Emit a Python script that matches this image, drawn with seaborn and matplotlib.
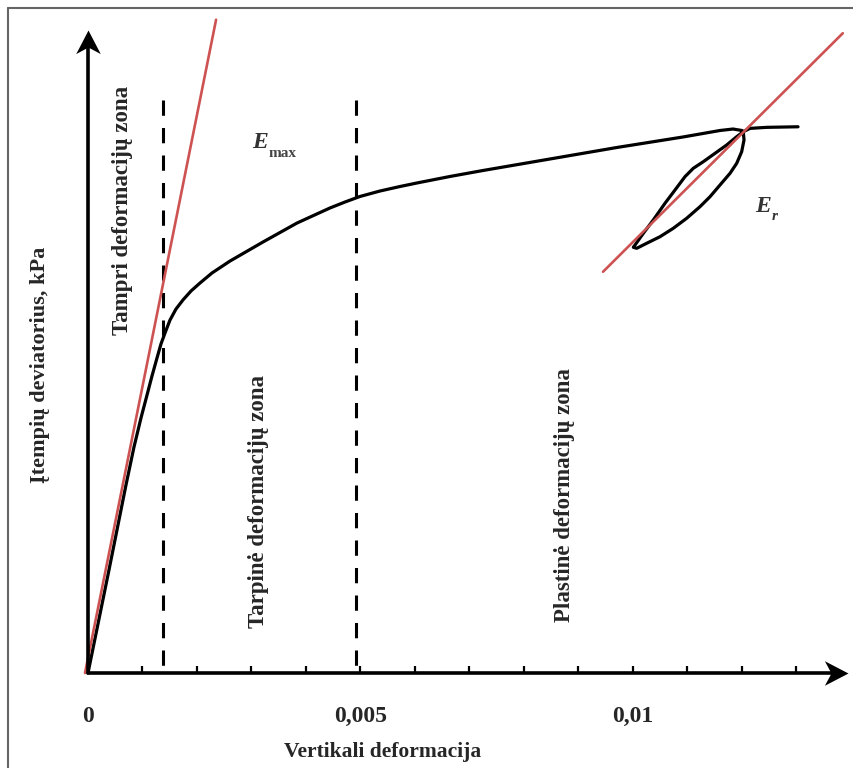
import numpy as np
import pandas as pd
import matplotlib.pyplot as plt
import seaborn as sns
from matplotlib.lines import Line2D
from matplotlib.path import Path

# strain (-) and deviator stress (kPa, arbitrary scale)
curve_strain = [0, 0.000385, 0.000697, 0.000844, 0.000972, 0.001083, 0.001174,
                0.001266, 0.001339, 0.001413, 0.001505, 0.001615, 0.001743,
                0.001890, 0.002055, 0.002275, 0.002606, 0.003211, 0.003835,
                0.004440, 0.004716, 0.004991, 0.005358, 0.005725, 0.006037,
                0.006642, 0.007248, 0.008477, 0.009706, 0.010917, 0.011596,
                0.011835, 0.012000, 0.012024]
curve_stress = [0, 16.02, 29.24, 35.15, 39.66, 43.23, 46.19,
                48.99, 51.17, 52.88, 54.90, 56.61, 58.02,
                59.41, 60.65, 62.21, 64.07, 67.03, 69.98,
                72.32, 73.25, 74.11, 74.96, 75.66, 76.21,
                77.22, 78.15, 79.94, 81.73, 83.36, 84.37,
                84.60, 84.37, 84.18]
# unloading / reloading loop
loop_strain = [0.012037, 0.011994, 0.011903, 0.011780, 0.011596, 0.011413,
               0.011229, 0.010985, 0.010739, 0.010495, 0.010251, 0.010068,
               0.010006, 0.010037, 0.010189, 0.010372, 0.010587, 0.010771,
               0.010954, 0.011106, 0.011290, 0.011505, 0.011719, 0.011903,
               0.012024]
loop_stress = [82.89, 81.07, 79.27, 77.71, 75.89, 74.07,
               72.52, 70.72, 69.16, 67.85, 66.83, 66.05,
               66.21, 66.56, 68.38, 70.45, 73.05, 75.12,
               77.19, 78.49, 79.52, 80.82, 82.12, 83.41,
               84.18]
plateau_strain = [0.012147, 0.012453, 0.013028]
plateau_stress = [84.70, 84.86, 84.95]

emax_strain = [-0.000055, 0.00235]
emax_stress = [0, 101.6]
er_strain = [0.00945, 0.01385]
er_stress = [62.4, 99.5]

zone_limits = [0.00138, 0.00492]
zone_top = 89.1

tick_values = [0, 0.001, 0.002, 0.003, 0.004, 0.005, 0.006, 0.007, 0.008, 0.009,
               0.010, 0.011, 0.012, 0.013]
tick_labels = ['0', '', '', '', '', '0,005', '', '', '', '', '0,01', '', '', '']

sns.set_style("white")
plt.rcParams['font.family'] = ['Liberation Serif', 'DejaVu Serif']
plt.rcParams['font.weight'] = 'bold'

fig = plt.figure(figsize=(8.54, 7.68), dpi=100)
ax = fig.add_axes([88/854, 95/768, 760/854, 643/768])
x_max, y_max = 0.013945, 100
ax.set_xlim(0, x_max)
ax.set_ylim(0, y_max)
for s in ax.spines.values():
    s.set_visible(False)

df = pd.DataFrame({
    "strain": curve_strain + loop_strain + plateau_strain,
    "stress": curve_stress + loop_stress + plateau_stress,
})
sns.lineplot(data=df, x="strain", y="stress", sort=False, estimator=None,
             color="black", lw=2.3, ax=ax)
ax.lines[-1].set_solid_joinstyle("round")

red = "#cd5252"
ax.plot(emax_strain, emax_stress, color=red, lw=1.9, clip_on=False, zorder=3)
ax.plot(er_strain, er_stress, color=red, lw=1.9, clip_on=False, zorder=3)

for xz in zone_limits:
    ax.plot([xz, xz], [zone_top, 0], color="black", lw=2.2, dashes=(5, 4))

# axes with arrowheads
ax.plot([0, x_max - 0.0003], [0, 0], color="black", lw=2.6, clip_on=False, zorder=4)
ax.plot([0, 0], [0, y_max - 2.5], color="black", lw=2.6, clip_on=False, zorder=4)
head_x = Path([(0, 0), (-1, 0.52), (-0.72, 0), (-1, -0.52), (0, 0)],
              [Path.MOVETO, Path.LINETO, Path.LINETO, Path.LINETO, Path.CLOSEPOLY])
head_y = Path([(0, 0), (-0.52, -1), (0, -0.72), (0.52, -1), (0, 0)],
              [Path.MOVETO, Path.LINETO, Path.LINETO, Path.LINETO, Path.CLOSEPOLY])
ax.plot([x_max], [0], marker=head_x, markersize=34, color="black", mew=0, clip_on=False, zorder=5)
ax.plot([0], [y_max], marker=head_y, markersize=34, color="black", mew=0, clip_on=False, zorder=5)

ax.set_xticks(tick_values)
ax.set_xticklabels(tick_labels, fontsize=17, fontweight="bold")
ax.set_yticks([])
ax.tick_params(axis="x", direction="in", length=5, width=1.6, color="black", pad=24, bottom=True)
ax.set_xlabel("")
ax.set_ylabel("")

txt = dict(fontsize=16.5, fontweight="bold", rotation=90, ha="center", va="center")
ax.text(0.000624, 72.0, "Tampri deformacijų zona", **txt)
ax.text(0.00312, 26.7, "Tarpinė deformacijų zona", **txt)
ax.text(0.00875, 27.7, "Plastinė deformacijų zona", **txt)

ax.text(0.00330, 81.6, "E", fontsize=17, fontweight="bold", style="italic", color="#333333",
        ha="right", va="baseline")
ax.text(0.00331, 80.2, "max", fontsize=11, fontweight="bold", color="#444444",
        ha="left", va="baseline")
ax.text(0.01253, 71.7, "E", fontsize=17, fontweight="bold", style="italic", color="#333333",
        ha="right", va="baseline")
ax.text(0.01254, 70.4, "r", fontsize=11, fontweight="bold", style="italic", color="#333333",
        ha="left", va="baseline")

fig.text(40/854, 1 - 365/768, "Įtempių deviatorius, kPa", fontsize=16, fontweight="bold",
         rotation=90, ha="center", va="center")
fig.text(383/854, 1 - 752/768, "Vertikali deformacija", fontsize=15.5, fontweight="bold",
         ha="center", va="center")

# picture frame
fig.add_artist(Line2D([8/854, 8/854], [0, 1 - 8/768], color="#666666", lw=1.5))
fig.add_artist(Line2D([8/854, 1], [1 - 8/768, 1 - 8/768], color="#666666", lw=1.5))

fig.savefig("out.png", dpi=100)
